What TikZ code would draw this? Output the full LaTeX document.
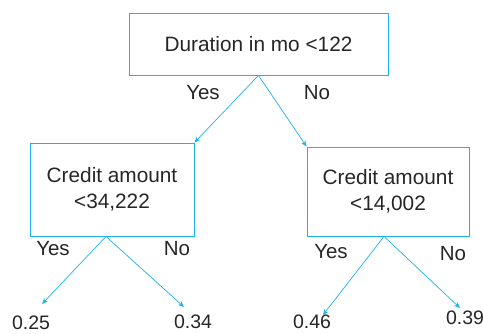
\documentclass[tikz,border=0pt]{standalone}
\usepackage{fontspec}
\setmainfont{Liberation Sans}
\usetikzlibrary{arrows.meta}
\definecolor{treeblue}{RGB}{30,178,235}
\tikzset{
  splitbox/.style={draw=treeblue, line width=0.9pt, align=center, inner sep=0pt,
    font=\fontsize{20.8}{26}\selectfont, text=black!85},
  branch/.style={draw=treeblue, line width=0.7pt, -{Stealth[length=6pt,width=5pt]}},
  answer/.style={font=\fontsize{20.5}{24}\selectfont, text=black!85, inner sep=0pt},
  leafval/.style={font=\fontsize{19.5}{22}\selectfont, text=black!85, inner sep=0pt}
}
\begin{document}
\begin{tikzpicture}[x=1pt, y=-1pt]
  \useasboundingbox (0,0) rectangle (483,333);

  % split nodes
  \node[splitbox, minimum width=259pt, minimum height=62pt] (dur) at (258.5,44) {Duration in mo <122};
  \node[splitbox, minimum width=164pt, minimum height=93pt] (cl) at (112,189.5) {Credit amount\\<34,222};
  \node[splitbox, minimum width=162pt, minimum height=89pt] (cr) at (388,191.5) {Credit amount\\<14,002};

  % leaves
  \node[leafval] (l1) at (31,323) {0.25};
  \node[leafval] (l2) at (193,322) {0.34};
  \node[leafval] (l3) at (312,322) {0.46};
  \node[leafval] (l4) at (465,318) {0.39};
  \coordinate (e1) at (42,304);
  \coordinate (e2) at (184,307);
  \coordinate (e3) at (323,315);
  \coordinate (e4) at (460,308);

  \draw[branch] (dur.south) -- (cl.north east); % yes
  \draw[branch] (dur.south) -- (cr.north west); % no
  \draw[branch] ([xshift=-6pt]cl.south) -- (e1);
  \draw[branch] ([xshift=-6pt]cl.south) -- (e2);
  \draw[branch] ([xshift=-4pt]cr.south) -- (e3);
  \draw[branch] ([xshift=-4pt]cr.south) -- (e4);

  % answers
  \node[answer] (y0) at (203,93) {Yes};
  \node[answer] (n0) at (317,93) {No};
  \node[answer] (y1) at (53,249) {Yes};
  \node[answer] (n1) at (177,249) {No};
  \node[answer] (y2) at (331,252) {Yes};
  \node[answer] (n2) at (453,254) {No};
\end{tikzpicture}
\end{document}
